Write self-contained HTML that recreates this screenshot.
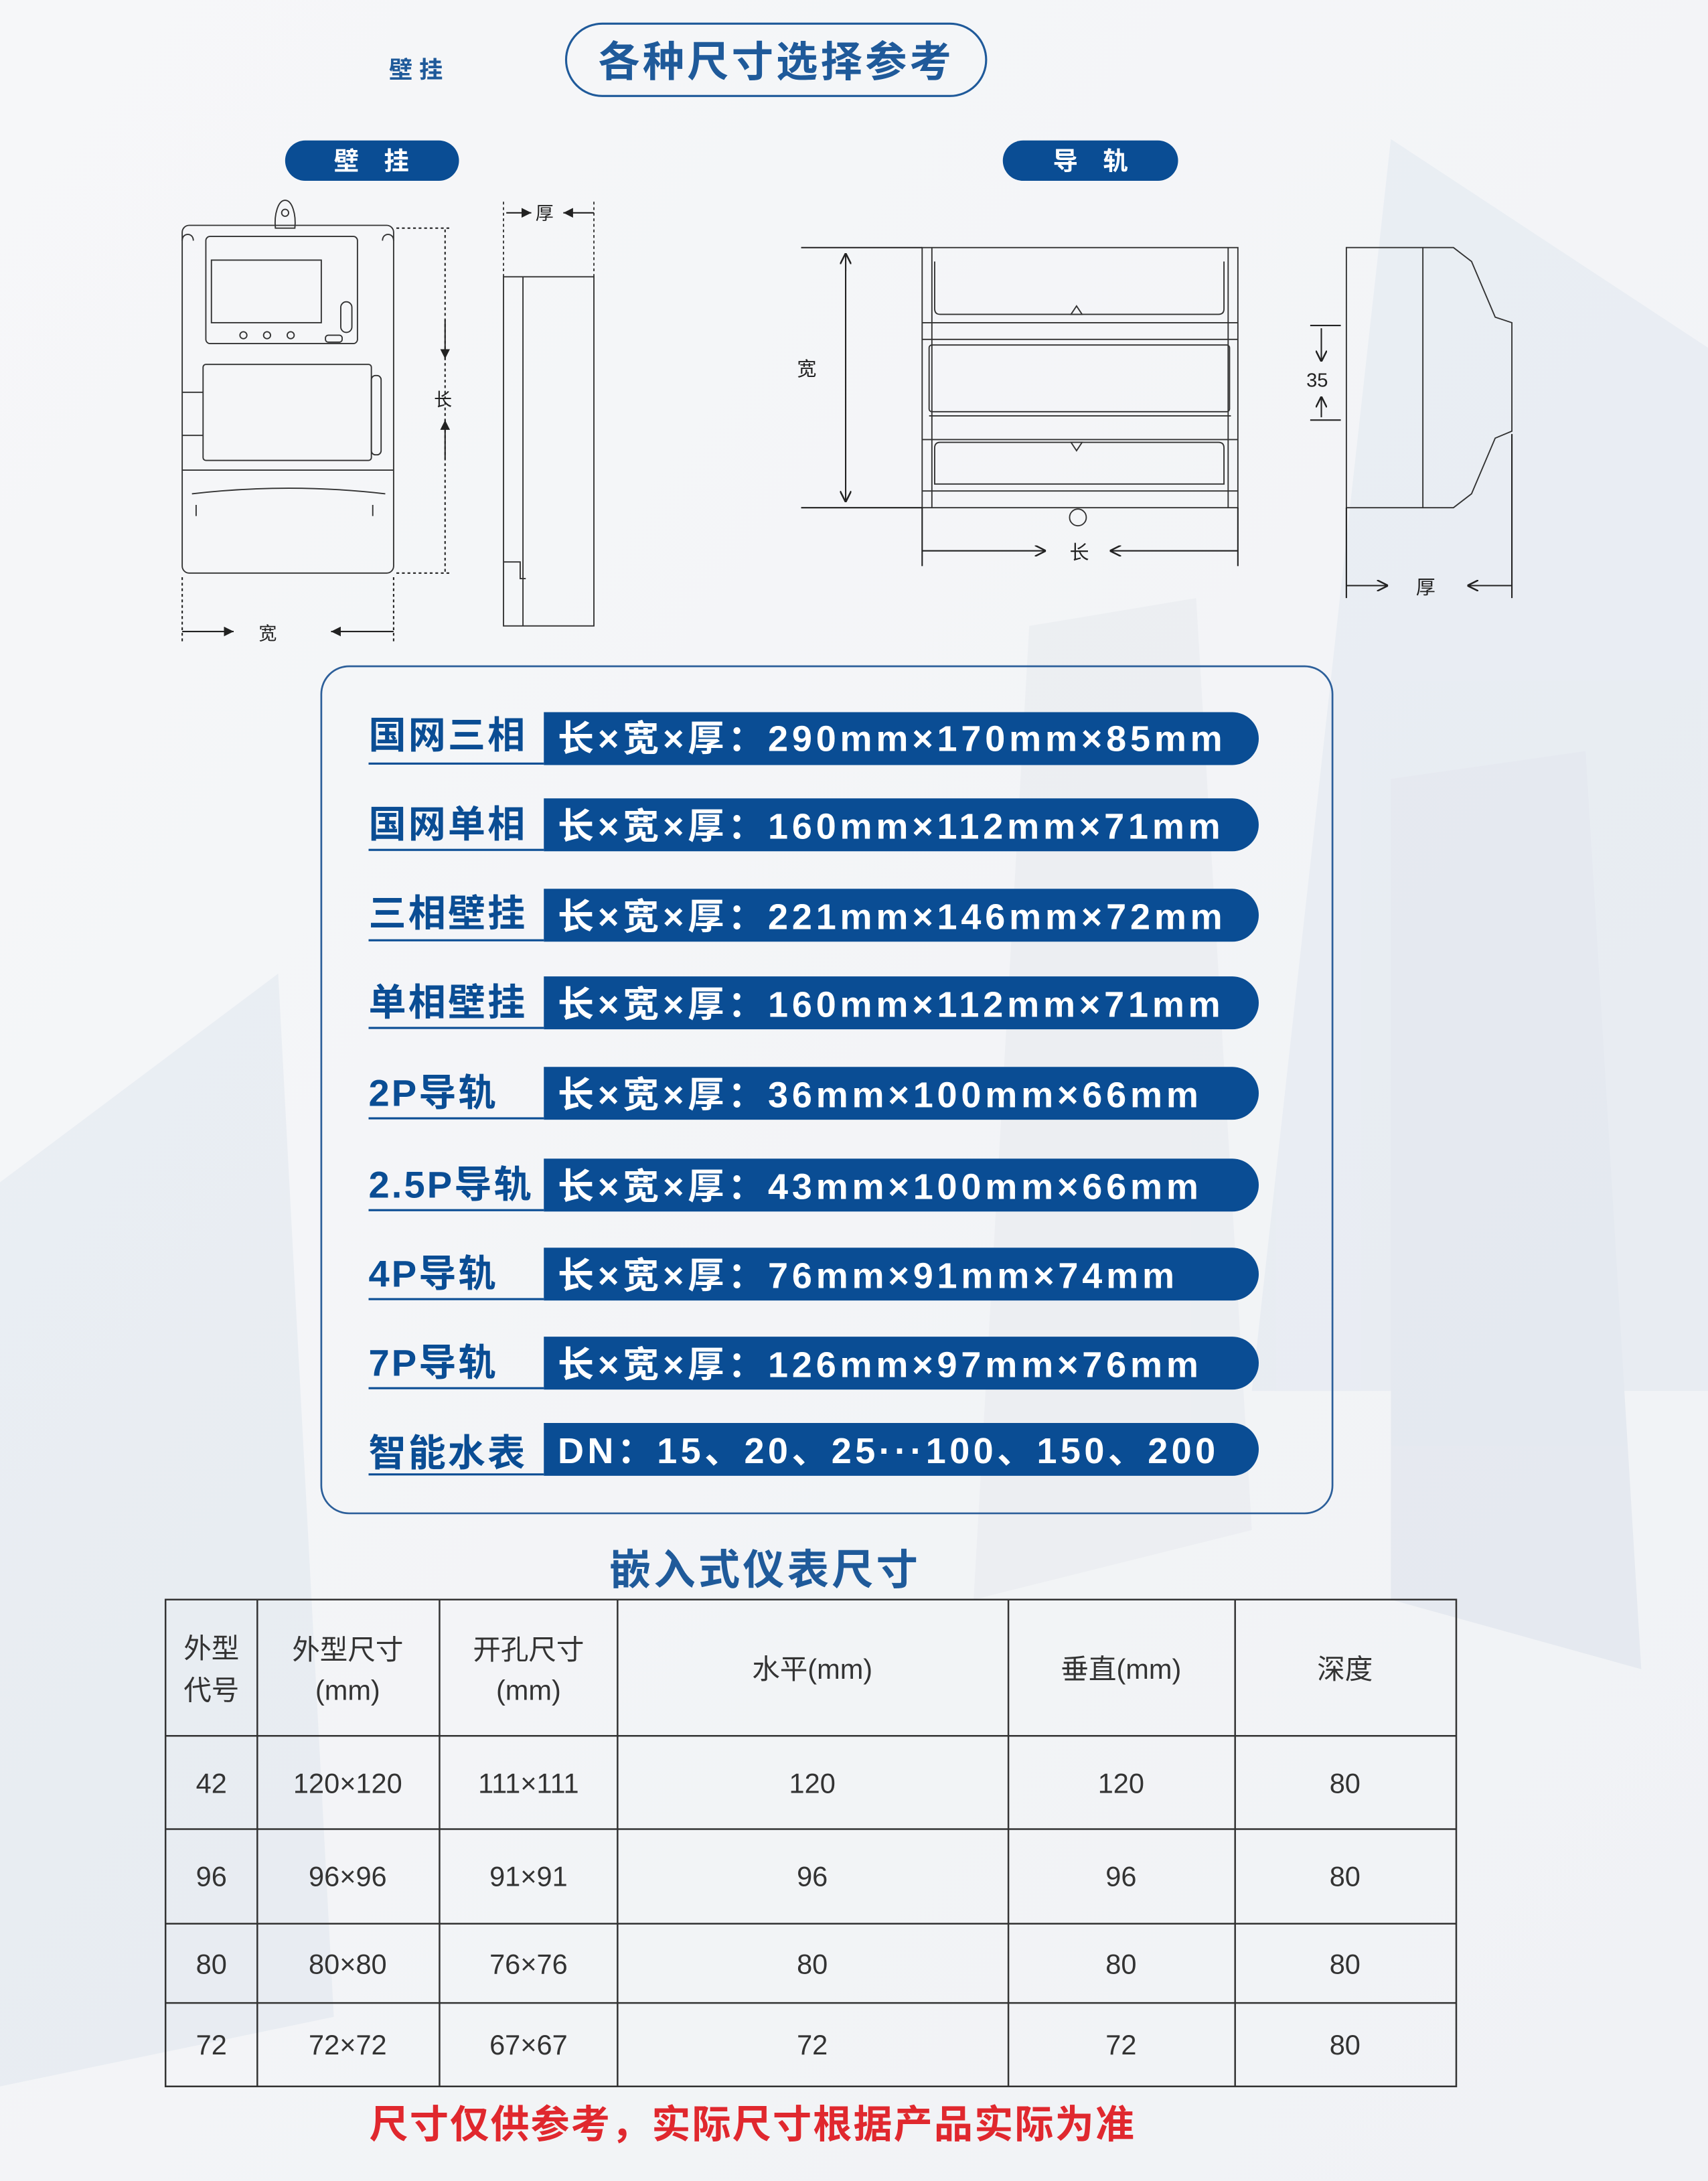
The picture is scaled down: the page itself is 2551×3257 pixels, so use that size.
<!DOCTYPE html>
<html><head><meta charset="utf-8"><style>
html,body{margin:0;padding:0;background:#f4f5f7}
svg{display:block}
text{font-family:"Liberation Sans","Noto Sans CJK SC",sans-serif}
</style></head><body>
<svg width="2551" height="3257" viewBox="0 0 1228 1568" preserveAspectRatio="none" xmlns="http://www.w3.org/2000/svg">
<defs>
<linearGradient id="bg" x1="0" y1="0" x2="1" y2="1">
<stop offset="0" stop-color="#f6f7f9"/><stop offset="1" stop-color="#f0f2f5"/></linearGradient>
<marker id="ar" viewBox="0 0 10 10" refX="10" refY="5" markerWidth="7" markerHeight="7" orient="auto"><path d="M0,0 L10,5 L0,10 z" fill="#222"/></marker>
<marker id="ao" viewBox="0 0 10 10" refX="10" refY="5" markerWidth="8" markerHeight="8" orient="auto"><path d="M0,0 L10,5 L0,10" fill="none" stroke="#222" stroke-width="1.5"/></marker>
</defs>
<rect width="1228" height="1568" fill="url(#bg)"/>
<g opacity="0.22">
<polygon points="1000,100 1228,250 1228,1000 900,1000" fill="#c9d5e6"/>
<polygon points="740,450 860,430 900,1100 700,1150" fill="#d5dbe5"/>
<polygon points="0,850 200,700 240,1450 0,1500" fill="#c5d1e2"/>
<polygon points="1000,560 1140,540 1180,1200 1000,1150" fill="#b9c7dc"/>
</g>
<rect x="407" y="17" width="302" height="52" rx="26" fill="none" stroke="#1f5a9a" stroke-width="1.5"/>
<text x="558" y="55" font-size="30" fill="#1f5a9a" text-anchor="middle" font-weight="bold" letter-spacing="2">各种尺寸选择参考</text>
<text x="299" y="56" font-size="17" fill="#1f5a9a" text-anchor="middle" font-weight="bold">壁 挂</text>
<rect x="205" y="101" width="125" height="29" rx="14.5" fill="#0a4d94"/>
<text x="267" y="122" font-size="18" fill="#fff" text-anchor="middle" font-weight="bold">壁　挂</text>
<rect x="721" y="101" width="126" height="29" rx="14.5" fill="#0a4d94"/>
<text x="784" y="122" font-size="18" fill="#fff" text-anchor="middle" font-weight="bold">导　轨</text>

<g fill="none" stroke="#333" stroke-width="0.9">
<path d="M205,144 c-5,0 -8,10 -7,20 l14,0 c1,-10 -2,-20 -7,-20z"/>
<circle cx="205" cy="153" r="2.5"/>
<rect x="131" y="162" width="152" height="250" rx="5"/>
<rect x="148" y="170" width="109" height="77" rx="3"/>
<rect x="152" y="187" width="79" height="45"/>
<rect x="245" y="217" width="8" height="22" rx="4"/>
<circle cx="175" cy="241" r="2.5"/><circle cx="192" cy="241" r="2.5"/><circle cx="209" cy="241" r="2.5"/>
<rect x="234" y="241" width="12" height="5" rx="2"/>
<rect x="146" y="262" width="121" height="69" rx="2"/>
<path d="M131,282 h15 M131,313 h15"/>
<rect x="267" y="270" width="7" height="57" rx="3"/>
<path d="M131,338 h152 M138,355 q70,-8 139,0"/>
<path d="M141,363 v8 M268,363 v8"/>
<path d="M131,173 c0,-6 8,-6 8,0 M275,173 c0,-6 8,-6 8,0"/>
<rect x="362" y="199" width="65" height="251"/>
<path d="M376,199 v251 M362,404 h12 v12 h4"/>
<path d="M427,145 v55 M362,145 v55" stroke-dasharray="2,2"/>
</g>
<g stroke="#222" stroke-width="1" fill="none">
<path d="M285,164 h40 M285,412 h40" stroke-dasharray="2,2"/>
<line x1="320" y1="165" x2="320" y2="412" stroke-dasharray="2,2"/>
<line x1="320" y1="230" x2="320" y2="258" marker-end="url(#ar)"/>
<line x1="320" y1="330" x2="320" y2="302" marker-end="url(#ar)"/>
<path d="M131,415 v46 M283,415 v46" stroke-dasharray="2,2"/>
<line x1="131" y1="454" x2="168" y2="454" marker-end="url(#ar)"/>
<line x1="283" y1="454" x2="238" y2="454" marker-end="url(#ar)"/>
<line x1="364" y1="153" x2="382" y2="153" marker-end="url(#ar)"/>
<line x1="427" y1="153" x2="405" y2="153" marker-end="url(#ar)"/>
</g>
<text x="312" y="292" font-size="13" fill="#222">长</text>
<text x="186" y="460" font-size="13" fill="#222">宽</text>
<text x="385" y="158" font-size="13" fill="#222">厚</text>

<g fill="none" stroke="#333" stroke-width="0.9">
<rect x="663" y="178" width="227" height="187"/>
<path d="M670,178 v187 M883,178 v187"/>
<path d="M663,232 h227 M663,244 h227 M668,299 h217 M663,316 h227 M663,353 h227"/>
<path d="M672,188 v34 q0,4 4,4 h200 q4,0 4,-4 v-34"/>
<rect x="668" y="248" width="216" height="48" rx="2"/>
<path d="M672,322 v26 h208 v-26 q0,-4 -4,-4 h-200 q-4,0 -4,4"/>
<circle cx="775" cy="372" r="6"/>
<path d="M770,226 l4,-6 l4,6z M770,318 l4,6 l4,-6z"/>
<path d="M968,178 h77 l13,10 l17,40 l12,4 v78 l-12,5 l-17,40 l-13,10 h-77 z"/>
<path d="M1023,178 v187"/>
</g>
<g stroke="#222" stroke-width="1" fill="none">
<path d="M576,178 h87 M576,365 h87"/>
<line x1="608" y1="195" x2="608" y2="182" marker-end="url(#ao)"/>
<line x1="608" y1="182" x2="608" y2="361" marker-end="url(#ao)"/>
<path d="M663,365 v42 M890,365 v42 M968,365 v65 M1087,312 v118"/>
<line x1="663" y1="396" x2="752" y2="396" marker-end="url(#ao)"/>
<line x1="890" y1="396" x2="798" y2="396" marker-end="url(#ao)"/>
<line x1="968" y1="421" x2="998" y2="421" marker-end="url(#ao)"/>
<line x1="1087" y1="421" x2="1055" y2="421" marker-end="url(#ao)"/>
<path d="M942,234 h22 M942,302 h22"/>
<line x1="950" y1="236" x2="950" y2="260" marker-end="url(#ao)"/>
<line x1="950" y1="300" x2="950" y2="285" marker-end="url(#ao)"/>
</g>
<text x="580" y="270" font-size="14" fill="#222" text-anchor="middle">宽</text>
<text x="776" y="402" font-size="14" fill="#222" text-anchor="middle">长</text>
<text x="1025" y="427" font-size="14" fill="#222" text-anchor="middle">厚</text>
<text x="947" y="278" font-size="14" fill="#222" text-anchor="middle">35</text>

<rect x="231" y="479" width="727" height="609" rx="20" fill="none" stroke="#2c5f9a" stroke-width="1.3"/>
<g font-size="26" font-weight="bold">
<path d="M391,512 h495 a19,19 0 0 1 0,38 h-495z" fill="#0a4d94"/><line x1="265" y1="549" x2="391" y2="549" stroke="#0a4d94" stroke-width="1.5"/>
<text x="265" y="538" fill="#0a4d94" font-size="27" letter-spacing="1.5">国网三相</text><text x="401" y="540" fill="#fff" letter-spacing="2.8">长×宽×厚：290mm×170mm×85mm</text>
<path d="M391,574 h495 a19,19 0 0 1 0,38 h-495z" fill="#0a4d94"/><line x1="265" y1="611" x2="391" y2="611" stroke="#0a4d94" stroke-width="1.5"/>
<text x="265" y="602" fill="#0a4d94" font-size="27" letter-spacing="1.5">国网单相</text><text x="401" y="603" fill="#fff" letter-spacing="2.8">长×宽×厚：160mm×112mm×71mm</text>
<path d="M391,639 h495 a19,19 0 0 1 0,38 h-495z" fill="#0a4d94"/><line x1="265" y1="676" x2="391" y2="676" stroke="#0a4d94" stroke-width="1.5"/>
<text x="265" y="666" fill="#0a4d94" font-size="27" letter-spacing="1.5">三相壁挂</text><text x="401" y="668" fill="#fff" letter-spacing="2.8">长×宽×厚：221mm×146mm×72mm</text>
<path d="M391,702 h495 a19,19 0 0 1 0,38 h-495z" fill="#0a4d94"/><line x1="265" y1="739" x2="391" y2="739" stroke="#0a4d94" stroke-width="1.5"/>
<text x="265" y="730" fill="#0a4d94" font-size="27" letter-spacing="1.5">单相壁挂</text><text x="401" y="731" fill="#fff" letter-spacing="2.8">长×宽×厚：160mm×112mm×71mm</text>
<path d="M391,767 h495 a19,19 0 0 1 0,38 h-495z" fill="#0a4d94"/><line x1="265" y1="804" x2="391" y2="804" stroke="#0a4d94" stroke-width="1.5"/>
<text x="265" y="795" fill="#0a4d94" font-size="27" letter-spacing="1.5">2P导轨</text><text x="401" y="796" fill="#fff" letter-spacing="2.8">长×宽×厚：36mm×100mm×66mm</text>
<path d="M391,833 h495 a19,19 0 0 1 0,38 h-495z" fill="#0a4d94"/><line x1="265" y1="870" x2="391" y2="870" stroke="#0a4d94" stroke-width="1.5"/>
<text x="265" y="861" fill="#0a4d94" font-size="27" letter-spacing="1.5">2.5P导轨</text><text x="401" y="862" fill="#fff" letter-spacing="2.8">长×宽×厚：43mm×100mm×66mm</text>
<path d="M391,897 h495 a19,19 0 0 1 0,38 h-495z" fill="#0a4d94"/><line x1="265" y1="934" x2="391" y2="934" stroke="#0a4d94" stroke-width="1.5"/>
<text x="265" y="925" fill="#0a4d94" font-size="27" letter-spacing="1.5">4P导轨</text><text x="401" y="926" fill="#fff" letter-spacing="2.8">长×宽×厚：76mm×91mm×74mm</text>
<path d="M391,961 h495 a19,19 0 0 1 0,38 h-495z" fill="#0a4d94"/><line x1="265" y1="998" x2="391" y2="998" stroke="#0a4d94" stroke-width="1.5"/>
<text x="265" y="989" fill="#0a4d94" font-size="27" letter-spacing="1.5">7P导轨</text><text x="401" y="990" fill="#fff" letter-spacing="2.8">长×宽×厚：126mm×97mm×76mm</text>
<path d="M391,1023 h495 a19,19 0 0 1 0,38 h-495z" fill="#0a4d94"/><line x1="265" y1="1060" x2="391" y2="1060" stroke="#0a4d94" stroke-width="1.5"/>
<text x="265" y="1054" fill="#0a4d94" font-size="27" letter-spacing="1.5">智能水表</text><text x="401" y="1052" fill="#fff" letter-spacing="2.6">DN：15、20、25···100、150、200</text>
</g>

<text x="550" y="1139" font-size="30" fill="#1f5a9a" text-anchor="middle" font-weight="bold" letter-spacing="2">嵌入式仪表尺寸</text>
<g stroke="#333" stroke-width="1.2" fill="none">
<rect x="119" y="1150" width="928" height="350"/>
<path d="M119,1248 h928 M119,1315 h928 M119,1383 h928 M119,1440 h928"/>
<path d="M185,1150 v350 M316,1150 v350 M444,1150 v350 M725,1150 v350 M888,1150 v350"/>
</g>
<g font-size="20" fill="#333" text-anchor="middle">
<text x="152" y="1192">外型</text><text x="152" y="1222">代号</text>
<text x="250" y="1193">外型尺寸</text><text x="250" y="1222">(mm)</text>
<text x="380" y="1193">开孔尺寸</text><text x="380" y="1222">(mm)</text>
<text x="584" y="1207">水平(mm)</text><text x="806" y="1207">垂直(mm)</text><text x="967" y="1207">深度</text>
<text x="152" y="1289">42</text><text x="250" y="1289">120×120</text><text x="380" y="1289">111×111</text><text x="584" y="1289">120</text><text x="806" y="1289">120</text><text x="967" y="1289">80</text>
<text x="152" y="1356">96</text><text x="250" y="1356">96×96</text><text x="380" y="1356">91×91</text><text x="584" y="1356">96</text><text x="806" y="1356">96</text><text x="967" y="1356">80</text>
<text x="152" y="1419">80</text><text x="250" y="1419">80×80</text><text x="380" y="1419">76×76</text><text x="584" y="1419">80</text><text x="806" y="1419">80</text><text x="967" y="1419">80</text>
<text x="152" y="1477">72</text><text x="250" y="1477">72×72</text><text x="380" y="1477">67×67</text><text x="584" y="1477">72</text><text x="806" y="1477">72</text><text x="967" y="1477">80</text>
</g>
<text x="541" y="1537" font-size="28" fill="#e0282e" text-anchor="middle" font-weight="bold" letter-spacing="1">尺寸仅供参考，实际尺寸根据产品实际为准</text>
</svg>
</body></html>
